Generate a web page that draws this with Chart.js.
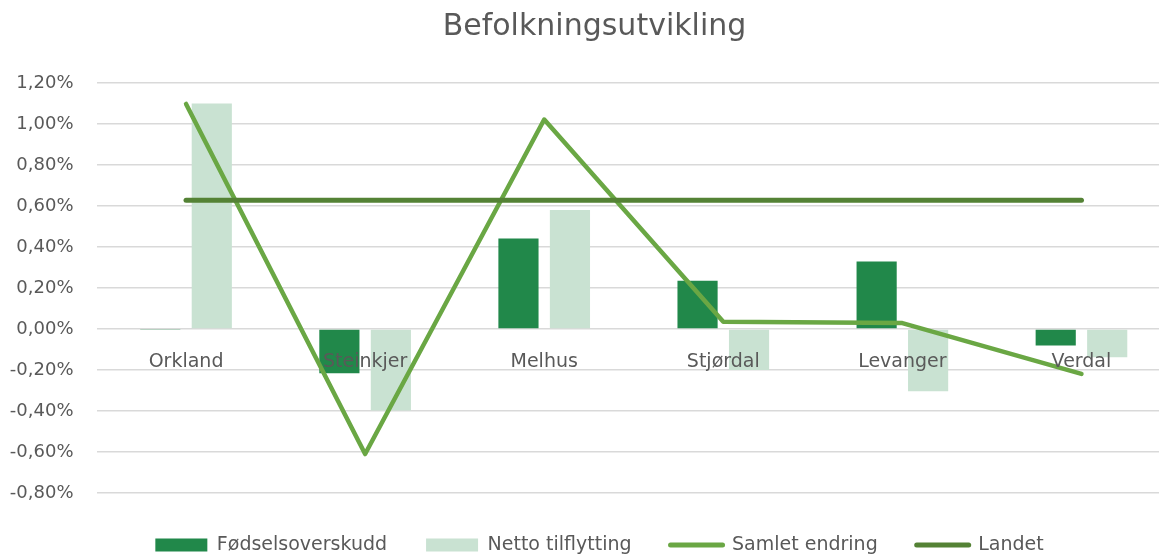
<!DOCTYPE html>
<html><head><meta charset="utf-8">
<script src="https://cdn.jsdelivr.net/npm/chart.js@4.4.0/dist/chart.umd.min.js"></script>
<style>
html,body{margin:0;padding:0;overflow:hidden;background:#fff;width:1159px;height:554px}
#wrap{position:absolute;left:0;top:0;width:1189px;height:561px}
</style>
</head><body>
<div id="wrap"><canvas id="c" width="1189" height="561"></canvas></div>
<script>
const categories = ['Orkland', 'Steinkjer', 'Melhus', 'Stjørdal', 'Levanger', 'Verdal'];
const fodselsoverskudd = [-0.003, -0.216, 0.441, 0.235, 0.329, -0.08];
const nettoTilflytting = [1.10, -0.398, 0.58, -0.20, -0.304, -0.138];
const samletEndring = [1.098, -0.61, 1.022, 0.035, 0.029, -0.219];
const landet = [0.628, 0.628, 0.628, 0.628, 0.628, 0.628];
const yTickLabels = ['-0,80%', '-0,60%', '-0,40%', '-0,20%', '0,00%', '0,20%', '0,40%', '0,60%', '0,80%', '1,00%', '1,20%'];
const seriesNames = ['Fødselsoverskudd', 'Netto tilflytting', 'Samlet endring', 'Landet'];
const chartTitle = 'Befolkningsutvikling';

Chart.defaults.font.family = "'DejaVu Sans', sans-serif";
Chart.defaults.color = '#595959';

const shiftPlugin = {
  id: 'shiftBlocks',
  afterLayout(chart) {
    const t = chart.titleBlock;
    if (t) { t.left += 9; t.right += 9; }
    const l = chart.legend;
    if (l) { l.left += 14; l.right += 14; l.top += 3.5; l.bottom += 3.5; }
  }
};

new Chart(document.getElementById('c'), {
  type: 'bar',
  plugins: [shiftPlugin],
  data: {
    labels: categories,
    datasets: [
      { label: seriesNames[0], data: fodselsoverskudd, backgroundColor: '#21884A', order: 3,
        categoryPercentage: 0.575, barPercentage: 0.78 },
      { label: seriesNames[1], data: nettoTilflytting, backgroundColor: '#C9E2D2', order: 3,
        categoryPercentage: 0.575, barPercentage: 0.78 },
      { label: seriesNames[2], data: samletEndring, type: 'line', borderColor: '#6AA744', backgroundColor: '#6AA744',
        borderWidth: 4.5, pointRadius: 0, borderCapStyle: 'round', borderJoinStyle: 'round', tension: 0, order: 2 },
      { label: seriesNames[3], data: landet, type: 'line', borderColor: '#548235', backgroundColor: '#548235',
        borderWidth: 5, pointRadius: 0, borderCapStyle: 'round', borderJoinStyle: 'round', tension: 0, order: 1 }
    ]
  },
  options: {
    responsive: false,
    animation: false,
    devicePixelRatio: 1,
    layout: { padding: { left: 0, right: 18, top: 0, bottom: 0 } },
    plugins: {
      tooltip: { enabled: false },
      title: {
        display: true, text: chartTitle, color: '#595959',
        font: { size: 30, weight: 'normal' },
        padding: { top: 9, bottom: 38 }
      },
      legend: {
        position: 'bottom',
        labels: {
          usePointStyle: true, pointStyleWidth: 52, boxHeight: 13,
          font: { size: 19 }, color: '#595959', padding: 39,
          sort: (a, b) => a.datasetIndex - b.datasetIndex,
          generateLabels(chart) {
            const items = Chart.defaults.plugins.legend.labels.generateLabels(chart);
            items.forEach(it => {
              const ds = chart.data.datasets[it.datasetIndex];
              if (ds.type === 'line') {
                it.pointStyle = 'line'; it.strokeStyle = ds.borderColor; it.fillStyle = ds.borderColor;
                it.lineWidth = 5; it.lineCap = 'round';
              } else {
                it.pointStyle = 'rect'; it.fillStyle = ds.backgroundColor; it.strokeStyle = ds.backgroundColor; it.lineWidth = 0;
              }
            });
            return items;
          }
        }
      }
    },
    scales: {
      x: {
        position: { y: 0 },
        grid: { display: false, drawTicks: false },
        border: { display: false },
        ticks: { font: { size: 19 }, color: '#595959', padding: 22, maxRotation: 0, z: 1 }
      },
      y: {
        min: -0.8, max: 1.2,
        grid: { color: '#D9D9D9', lineWidth: 1.5, drawTicks: false },
        border: { display: false },
        ticks: { stepSize: 0.2, font: { size: 18 }, color: '#595959', padding: 23,
          callback: (v, i) => yTickLabels[i] },
        afterFit(scale) { scale.width = 96.5; }
      }
    }
  }
});
</script>
</body></html>
